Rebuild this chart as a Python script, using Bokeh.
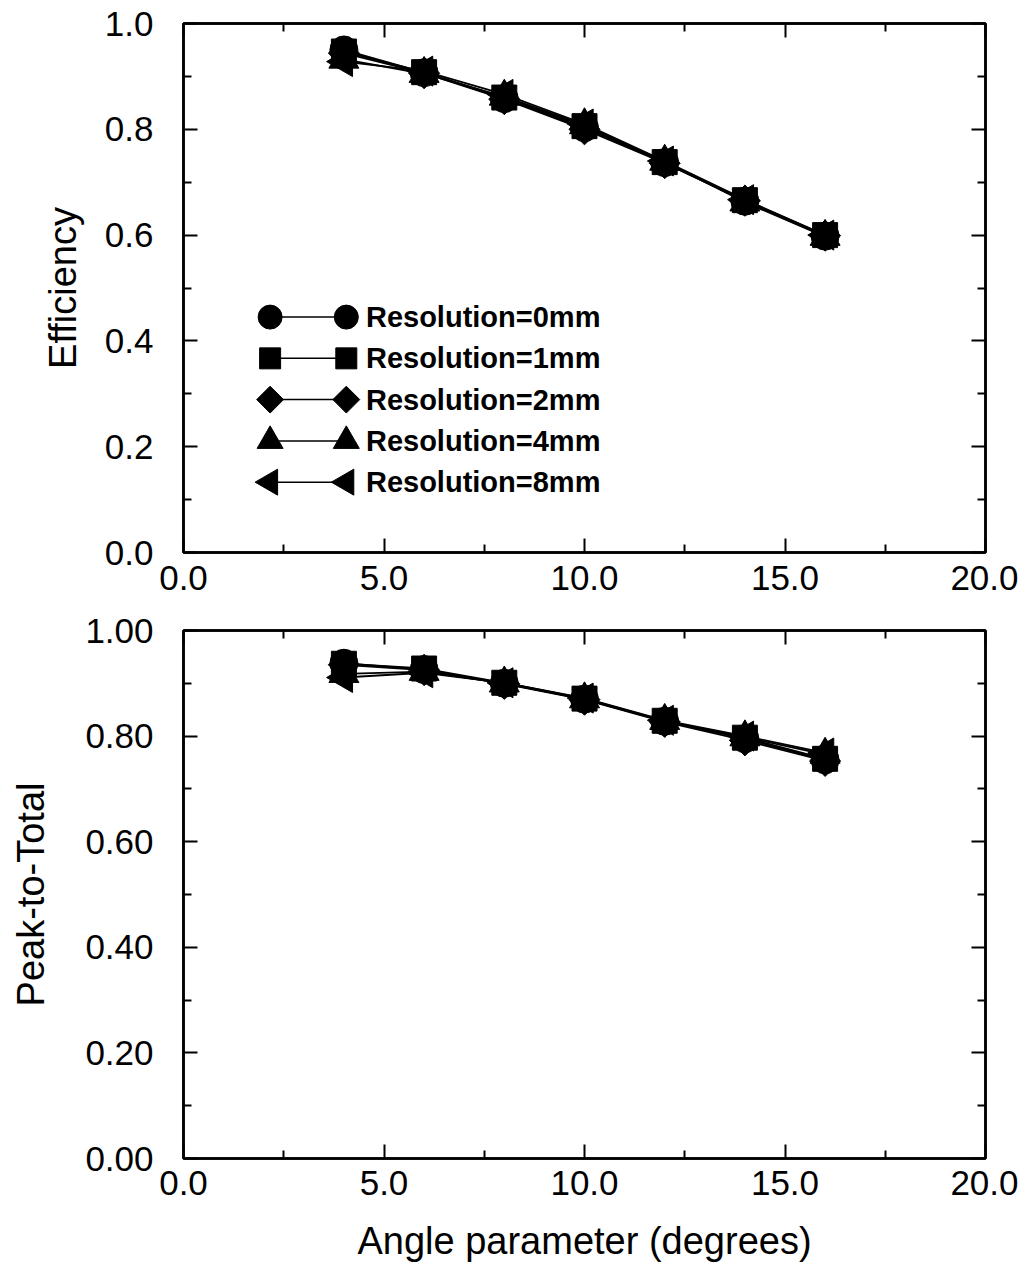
import numpy as np
from bokeh.plotting import figure
from bokeh.layouts import column
from bokeh.models import LinearAxis, FixedTicker, Range1d, NumeralTickFormatter
from bokeh.core.properties import value
from bokeh.embed import file_html
from bokeh.resources import INLINE

# ---------------- data ----------------
angle = [4, 6, 8, 10, 12, 14, 16]

series_labels = ["Resolution=0mm", "Resolution=1mm", "Resolution=2mm",
                 "Resolution=4mm", "Resolution=8mm"]

eff_0mm = [0.950, 0.907, 0.858, 0.803, 0.737, 0.664, 0.598]
eff_1mm = [0.947, 0.908, 0.860, 0.806, 0.738, 0.666, 0.600]
eff_2mm = [0.944, 0.906, 0.857, 0.800, 0.736, 0.665, 0.599]
eff_4mm = [0.932, 0.905, 0.862, 0.808, 0.739, 0.662, 0.597]
eff_8mm = [0.928, 0.910, 0.866, 0.810, 0.740, 0.667, 0.600]

ptt_0mm = [0.938, 0.926, 0.900, 0.870, 0.828, 0.795, 0.755]
ptt_1mm = [0.937, 0.928, 0.901, 0.871, 0.829, 0.797, 0.757]
ptt_2mm = [0.935, 0.925, 0.899, 0.869, 0.827, 0.792, 0.753]
ptt_4mm = [0.918, 0.922, 0.900, 0.870, 0.829, 0.798, 0.765]
ptt_8mm = [0.911, 0.920, 0.901, 0.872, 0.830, 0.800, 0.768]

x_major = [0, 5, 10, 15, 20]
x_minor = [2.5, 7.5, 12.5, 17.5]
y_major = [0.0, 0.2, 0.4, 0.6, 0.8, 1.0]
y_minor = [0.1, 0.3, 0.5, 0.7, 0.9]

# ---------------- style ----------------
FONT = "Liberation Sans"
# diamond drawn as a square rotated by 45 degrees, "8mm" as a left-pointing triangle
markers = ["circle", "square", "square", "triangle", "triangle"]
marker_angles = [0, 0, np.pi / 4, 0, np.pi / 2]
marker_sizes = [28, 25, 22, 30, 30]


def style_axis(ax, ticker, labels=True, fmt="0.0", standoff=8):
    ax.ticker = ticker
    ax.axis_line_width = 2.5
    ax.axis_line_color = "black"
    ax.major_tick_in = 14
    ax.major_tick_out = 0
    ax.minor_tick_in = 8
    ax.minor_tick_out = 0
    ax.major_tick_line_width = 2
    ax.minor_tick_line_width = 2
    ax.major_tick_line_color = "black"
    ax.minor_tick_line_color = "black"
    ax.major_label_text_font = FONT
    ax.major_label_text_color = "black"
    ax.major_label_text_font_size = "35px"
    ax.formatter = NumeralTickFormatter(format=fmt)
    ax.major_label_standoff = standoff
    if not labels:
        ax.major_label_overrides = {t: "" for t in ticker.ticks}
        ax.major_label_standoff = 0


def make_fig(width, height, bl, br, bt, bb, ylabel, yfmt, ylab_standoff,
             xlab_standoff, xlabel=None):
    p = figure(width=width, height=height,
               x_range=Range1d(0, 20), y_range=Range1d(0, 1),
               output_backend="svg", toolbar_location=None,
               min_border_left=bl, min_border_right=br,
               min_border_top=bt, min_border_bottom=bb)
    p.xgrid.visible = False
    p.ygrid.visible = False
    p.outline_line_color = "black"
    p.outline_line_width = 2.5
    p.background_fill_color = "white"
    p.border_fill_color = "white"

    xt = FixedTicker(ticks=x_major, minor_ticks=x_minor)
    yt = FixedTicker(ticks=y_major, minor_ticks=y_minor)

    style_axis(p.xaxis[0], xt, True, "0.0", xlab_standoff)
    style_axis(p.yaxis[0], yt, True, yfmt, 30)

    p.yaxis[0].axis_label = ylabel
    p.yaxis[0].axis_label_text_font = FONT
    p.yaxis[0].axis_label_text_font_size = "38px"
    p.yaxis[0].axis_label_text_font_style = "normal"
    p.yaxis[0].axis_label_text_color = "black"
    p.yaxis[0].axis_label_standoff = ylab_standoff

    if xlabel:
        p.xaxis[0].axis_label = xlabel
        p.xaxis[0].axis_label_text_font = FONT
        p.xaxis[0].axis_label_text_font_size = "38px"
        p.xaxis[0].axis_label_text_font_style = "normal"
        p.xaxis[0].axis_label_text_color = "black"
        p.xaxis[0].axis_label_standoff = 22

    top_ax = LinearAxis()
    style_axis(top_ax, FixedTicker(ticks=x_major, minor_ticks=x_minor), False)
    p.add_layout(top_ax, "above")
    right_ax = LinearAxis()
    style_axis(right_ax, FixedTicker(ticks=y_major, minor_ticks=y_minor), False)
    p.add_layout(right_ax, "right")
    return p


def draw_series(p, ys_list):
    for ys in ys_list:
        p.line(angle, ys, line_color="black", line_width=1.8)
    for ys, mk, ang, sz in zip(ys_list, markers, marker_angles, marker_sizes):
        p.scatter(angle, ys, marker=mk, angle=ang, size=sz,
                  fill_color="black", line_color="black")


# ---------------- top figure ----------------
p1 = make_fig(1018, 604, 183, 23, 23, 52, "Efficiency", "0.0", 18, 13)
draw_series(p1, [eff_0mm, eff_1mm, eff_2mm, eff_4mm, eff_8mm])

# legend drawn inside the top panel
leg_x_left, leg_x_right, leg_x_text = 2.16, 4.06, 4.55
leg_y0, leg_dy = 0.445, 0.078
leg_sizes = [24, 21, 19, 26, 26]
for i, lab in enumerate(series_labels):
    yy = leg_y0 - i * leg_dy
    p1.line([leg_x_left, leg_x_right], [yy, yy], line_color="black", line_width=1.5)
    p1.scatter([leg_x_left, leg_x_right], [yy, yy], marker=markers[i],
               angle=marker_angles[i], size=leg_sizes[i],
               fill_color="black", line_color="black")
    p1.text([leg_x_text], [yy], text=[lab], text_font=value(FONT),
            text_font_size="29px", text_font_style="bold",
            text_baseline="middle", text_align="left", text_color="black")

# ---------------- bottom figure ----------------
p2 = make_fig(1018, 666, 178, 33, 26, 112, "Peak-to-Total", "0.00", 30, 12,
              xlabel="Angle parameter (degrees)")
draw_series(p2, [ptt_0mm, ptt_1mm, ptt_2mm, ptt_4mm, ptt_8mm])

layout = column(p1, p2, spacing=0)
open("out.html", "w").write(file_html(layout, INLINE))
